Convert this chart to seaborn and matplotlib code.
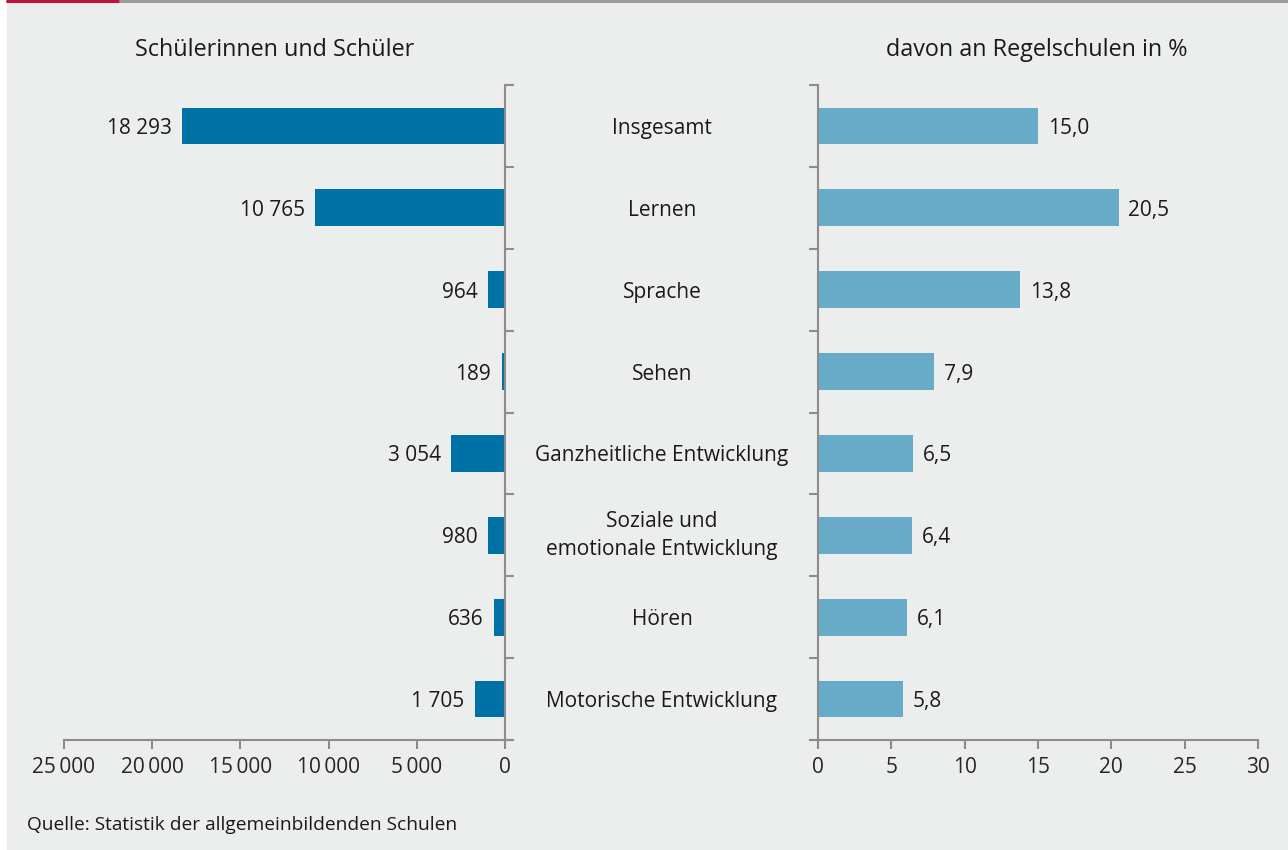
import matplotlib
matplotlib.use("Agg")
import matplotlib.pyplot as plt
import matplotlib.transforms as mtransforms
from matplotlib.lines import Line2D
from matplotlib.patches import Rectangle
import seaborn as sns
import pandas as pd
import numpy as np

categories = ["Insgesamt", "Lernen", "Sprache", "Sehen", "Ganzheitliche Entwicklung",
              "Soziale und\nemotionale Entwicklung", "Hören", "Motorische Entwicklung"]
students = [18293, 10765, 964, 189, 3054, 980, 636, 1705]
share_regular = [15.0, 20.5, 13.8, 7.9, 6.5, 6.4, 6.1, 5.8]
left_ticks = [25000, 20000, 15000, 10000, 5000, 0]
right_ticks = [0, 5, 10, 15, 20, 25, 30]
title_left = "Schülerinnen und Schüler"
title_right = "davon an Regelschulen in %"
source = "Quelle: Statistik der allgemeinbildenden Schulen"

BG = "#ECEDED"
DARK = "#0071A4"
LIGHT = "#67ABC8"
AX = "#8C8C8C"

sns.set_theme(style="white")
plt.rcParams['font.family'] = ['Open Sans', 'DejaVu Sans']
plt.rcParams['text.color'] = '#1A1A1A'

df = pd.DataFrame({"cat": categories, "students": students, "share": share_regular})

fig = plt.figure(figsize=(12.88, 8.5), dpi=100, facecolor="white")
fig.add_artist(Rectangle((7/1288, 0), 1 - 7/1288, 1, transform=fig.transFigure,
                         facecolor=BG, edgecolor="none", zorder=-10))
fig.add_artist(Line2D([7/1288, 120/1288], [1 - 1/850, 1 - 1/850], transform=fig.transFigure,
                      color="#C0143C", lw=2.2))
fig.add_artist(Line2D([120/1288, 1], [1 - 1/850, 1 - 1/850], transform=fig.transFigure,
                      color="#9B9B9B", lw=2.2))

top = 1 - 85/850
bottom = 1 - 740/850
h = top - bottom
ax1 = fig.add_axes([64/1288, bottom, (512 - 64)/1288, h])
ax2 = fig.add_axes([810/1288, bottom, (1258 - 810)/1288, h])

def fmt_int(v, sep=" "):
    return f"{v:,}".replace(",", sep)

fs = 15
for ax in (ax1, ax2):
    ax.set_facecolor("none")
    for s in ax.spines.values():
        s.set_visible(False)

sns.barplot(data=df, y="cat", x="students", orient="h", color=DARK, width=0.45,
            ax=ax1, saturation=1, edgecolor="none")
sns.barplot(data=df, y="cat", x="share", orient="h", color=LIGHT, width=0.45,
            ax=ax2, saturation=1, edgecolor="none")

n = len(categories)
for ax in (ax1, ax2):
    ax.set_ylim(n - 0.5, -0.5)
    ax.set_xlabel("")
    ax.set_ylabel("")
    ax.set_yticks(np.arange(-0.5, n + 0.5, 1))
    ax.set_yticklabels([])
    ax.spines['bottom'].set_visible(True)
    ax.spines['bottom'].set_color(AX)
    ax.spines['bottom'].set_linewidth(1.5)
    ax.tick_params(axis='x', direction='out', length=6.5, width=1.5, color=AX,
                   labelsize=fs, pad=6, bottom=True)
    ax.tick_params(axis='y', direction='out', length=6.5, width=1.5, color=AX)

# left axes
ax1.set_xlim(25000, -25000 * 7 / 441)
ax1.set_xticks(left_ticks)
ax1.set_xticklabels([fmt_int(t, "\u2009") for t in left_ticks])
ax1.spines['right'].set_visible(True)
ax1.spines['right'].set_position(('data', 0))
ax1.spines['right'].set_color(AX)
ax1.spines['right'].set_linewidth(1.5)
ax1.yaxis.set_ticks_position('right')
ax1.tick_params(axis='y', right=True, left=False, labelright=False)

# right axes
ax2.set_xlim(-30 * 8 / 440, 30)
ax2.set_xticks(right_ticks)
ax2.set_xticklabels([str(t) for t in right_ticks])
ax2.spines['left'].set_visible(True)
ax2.spines['left'].set_position(('data', 0))
ax2.spines['left'].set_color(AX)
ax2.spines['left'].set_linewidth(1.5)
ax2.yaxis.set_ticks_position('left')
ax2.tick_params(axis='y', left=True, right=False, labelleft=False)

for i, v in enumerate(students):
    ax1.annotate(fmt_int(v), (v, i), xytext=(-7.5, 0), textcoords="offset points",
                 ha="right", va="center_baseline", fontsize=fs)
for i, v in enumerate(share_regular):
    ax2.annotate(f"{v:.1f}".replace(".", ","), (v, i), xytext=(7, 0), textcoords="offset points",
                 ha="left", va="center_baseline", fontsize=fs)

trans = mtransforms.blended_transform_factory(fig.transFigure, ax1.transData)
for i, c in enumerate(categories):
    va = "center" if "\n" in c else "center_baseline"
    ax1.text(662/1288, i, c, transform=trans, ha="center", va=va, fontsize=fs,
             linespacing=1.45, clip_on=False)

fig.text(275/1288, 1 - 47/850, title_left, ha="center", va="center_baseline", fontsize=16.8)
fig.text(1037/1288, 1 - 47/850, title_right, ha="center", va="center_baseline", fontsize=16.8)
fig.text(27/1288, 1 - 823/850, source, ha="left", va="center_baseline", fontsize=13.8)

fig.savefig("out.png", dpi=100, facecolor=fig.get_facecolor())
